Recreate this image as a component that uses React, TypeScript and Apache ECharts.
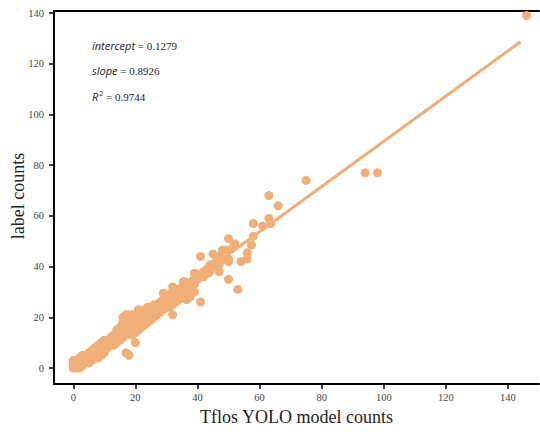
import React, { useEffect, useRef } from "react";
import * as echarts from "echarts";

// [Tflos YOLO model count, label count]
const points: number[][] = [
  [0,0],[0,1],[0,2],[0,3],[1,0],[1,1],[1,2],[1,3],[2,0],[2,1],[2,2],[2,3],[2,4],
  [3,1],[3,2],[3,3],[3,4],[3,5],[4,2],[4,3],[4,4],[4,5],[5,2],[5,3],[5,4],[5,5],[5,6],
  [6,3],[6,4],[6,5],[6,6],[6,7],[7,4],[7,5],[7,6],[7,7],[7,8],[8,4],[8,5],[8,6],[8,7],[8,9],
  [9,5],[9,6],[9,7],[9,8],[9,10],[10,6],[10,7],[10,8],[10,9],[10,11],
  [11,8],[11,9],[11,10],[11,11],[12,9],[12,10],[12,11],[12,12],[13,9],[13,10],[13,12],[13,13],
  [14,10],[14,11],[14,13],[14,15],[15,11],[15,12],[15,14],[15,16],[16,12],[16,14],[16,16],[16,18],[16,20],
  [17,13],[17,15],[17,17],[17,19],[17,21],[18,14],[18,16],[18,18],[18,20],[18,21],
  [19,13],[19,15],[19,17],[19,19],[19,21],[20,14],[20,16],[20,18],[20,20],[20,21],
  [17,6],[18,5],[20,10],
  [21,15],[21,17],[21,19],[21,21],[21,23],[22,16],[22,18],[22,20],[22,22],[23,17],[23,19],[23,21],[23,23],
  [24,18],[24,20],[24,22],[24,24],[25,19],[25,21],[25,23],[25,24],[26,20],[26,22],[26,24],[26,25],
  [27,21],[27,23],[27,25],[28,22],[28,24],[28,26],[29,23],[29,25],[29,27],[29,29.5],[30,24],[30,26],[30,28],
  [31,24],[31,26],[31,29],[32,21],[32,25],[32,27],[32,30],[32,32],[33,26],[33,28],[33,31],[33,27],
  [34,27],[34,29],[34,31],[35,28],[35,30],[35,32],[35.4,34],[36,34],[36.5,27],[37.6,28],
  [37,30],[37,32],[38,31],[38.6,34.7],[39,30],[39,33],[39,37.4],[40,35],[40,36],[41,26],[41,37],[41,44],
  [42,36],[42,38],[43,39],[43.5,37.4],[44,38],[44,40.6],[45,41],[45,45],[46,40],[46,42],[47,38],[47,41],[47,44],
  [48,43],[48,46.5],[49,46.5],[50,35],[50,42],[50,43],[50,51],[51,47],[52,49],[53,31],[54,42],
  [56,43],[56,45.5],[57.4,48.5],[58,52],[58,57],[61,56],[63,59],[63.6,57],[63,68],[66,64],
  [75,74],[94,77],[98,77],[146,139]
];

const fitX = [0, 144];
const fitY = [0.13, 128.66];
const xTicks = [0, 20, 40, 60, 80, 100, 120, 140];
const yTicks = [0, 20, 40, 60, 80, 100, 120, 140];
const statNames = ["intercept", "slope", "R"];
const statValues = ["0.1279", "0.8926", "0.9744"];
const xTitle = "Tflos YOLO model counts";
const yTitle = "label counts";

const COLOR = "#F0AE78";
const SERIF = "'Liberation Serif', 'Times New Roman', serif";
const SANS = "'Open Sans', 'DejaVu Sans', sans-serif";

export default function App() {
  const ref = useRef<HTMLDivElement>(null);
  useEffect(() => {
    if (!ref.current) return;
    const chart = echarts.init(ref.current, null, { renderer: "svg" });
    const axisCommon = {
      splitLine: { show: false },
      axisLine: { show: true, onZero: false, lineStyle: { color: "#000", width: 2 } },
      axisTick: { show: true, length: 5, lineStyle: { color: "#000", width: 1.5 } },
      axisLabel: { color: "#444", fontFamily: SERIF, fontSize: 10.5 },
    };
    const texts: any[] = statNames.map((n, i) => ({
      type: "text",
      left: 92,
      top: 40 + i * 25,
      style: {
        text:
          i === 2
            ? `{it|R}{sup|2}{n| = ${statValues[i]}}`
            : `{it|${n}}{n| = ${statValues[i]}}`,
        rich: {
          it: { fontFamily: SANS, fontStyle: "italic", fontSize: 11, fill: "#222" },
          sup: { fontFamily: SANS, fontSize: 7, fill: "#222", padding: [0, 0, 6, 1] },
          n: { fontFamily: SERIF, fontSize: 11, fill: "#222" },
        },
      },
    }));
    texts.push({
      type: "text",
      x: 18,
      y: 196,
      rotation: Math.PI / 2,
      style: {
        text: yTitle,
        fontFamily: SERIF,
        fontSize: 18,
        fill: "#222",
        align: "center",
        verticalAlign: "middle",
      },
    });
    chart.setOption({
      animation: false,
      backgroundColor: "#fff",
      grid: { left: 54, right: 1, top: 11, bottom: 48, outerBoundsMode: "none", containLabel: false },
      xAxis: [
        {
          ...axisCommon,
          type: "value",
          min: -6.2,
          max: 150,
          position: "bottom",
          axisTick: { ...axisCommon.axisTick, customValues: xTicks },
          axisLabel: { ...axisCommon.axisLabel, customValues: xTicks, margin: 8 },
          name: xTitle,
          nameLocation: "middle",
          nameGap: 22,
          nameTextStyle: { fontFamily: SERIF, fontSize: 18, color: "#222" },
        },
        {
          type: "value",
          min: -6.2,
          max: 150,
          position: "top",
          splitLine: { show: false },
          axisLine: { show: true, onZero: false, lineStyle: { color: "#000", width: 2 } },
          axisTick: { show: false },
          axisLabel: { show: false },
        },
      ],
      yAxis: {
        ...axisCommon,
        type: "value",
        min: -6.3,
        max: 140.8,
        axisTick: { ...axisCommon.axisTick, customValues: yTicks },
        axisLabel: { ...axisCommon.axisLabel, customValues: yTicks, margin: 10 },
      },
      graphic: texts,
      series: [
        {
          type: "scatter",
          data: points,
          symbolSize: 9,
          itemStyle: { color: COLOR, opacity: 1 },
          z: 2,
        },
        {
          type: "line",
          data: fitX.map((x, i) => [x, fitY[i]]),
          showSymbol: false,
          lineStyle: { color: COLOR, width: 3 },
          z: 3,
        },
      ],
    });
    return () => chart.dispose();
  }, []);
  return (
    <div
      ref={ref}
      style={{ position: "fixed", left: 0, top: 0, width: 540, height: 432 }}
    />
  );
}
